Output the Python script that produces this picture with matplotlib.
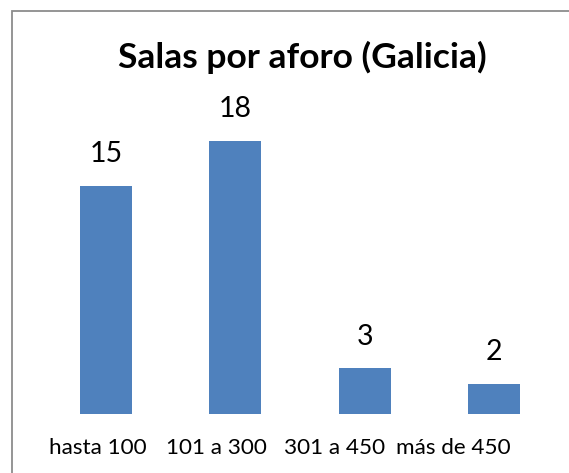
import matplotlib.pyplot as plt
from matplotlib.patches import Rectangle

categorias = ['hasta 100', '101 a 300', '301 a 450', 'más de 450']
salas = [15, 18, 3, 2]

plt.rcParams['font.family'] = ['Lato', 'DejaVu Sans']

W, H = 569, 473
fig = plt.figure(figsize=(W / 100, H / 100), dpi=100)

# marco gris (solo se ven los bordes superior e izquierdo)
fig.patches.append(Rectangle((12 / W, -0.05), 1.2, (H - 11) / H + 0.05,
                             transform=fig.transFigure, fill=False,
                             edgecolor='#8c8c8c', linewidth=1.3))

ax = fig.add_axes([41.3 / W, 59 / H, (558.7 - 41.3) / W, (414 - 110.6) / H])
x = range(len(categorias))
bars = ax.bar(x, salas, width=0.4, color='#4f81bd')
ax.set_xlim(-0.5, 3.5)
ax.set_ylim(0, 20)

for b, v in zip(bars, salas):
    ax.text(b.get_x() + b.get_width() / 2, v + 1.25, str(v),
            ha='center', va='bottom', fontsize=20.5)

# las etiquetas del original quedan algo más juntas que las barras
ax.set_xticks([-0.065 + 0.918 * i for i in x])
ax.set_xticklabels(categorias, fontsize=16.2)
ax.tick_params(axis='x', length=0, pad=17)
ax.set_yticks([])
for s in ax.spines.values():
    s.set_visible(False)

fig.text(302 / W, 1 - 57 / H, 'Salas por aforo (Galicia)', ha='center',
         va='center', fontsize=25.5, fontweight='bold')

fig.savefig('out.png', dpi=100)
